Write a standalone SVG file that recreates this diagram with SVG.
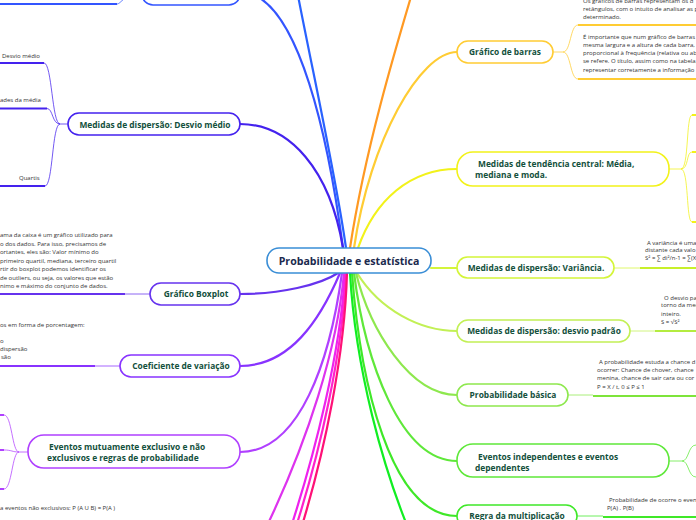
<svg xmlns="http://www.w3.org/2000/svg" width="696" height="520" viewBox="0 0 696 520">
<style>
.bg{fill:#ffffff}
.box{fill:#ffffff;stroke-width:1.6}
.nt{font-family:"Open Sans","DejaVu Sans",sans-serif;font-weight:bold;font-size:8.4px;fill:#13503c}
.ct{font-family:"Open Sans","DejaVu Sans",sans-serif;font-weight:bold;font-size:10.6px;fill:#1b2a4e}
.st{font-family:"Open Sans","DejaVu Sans",sans-serif;font-size:6px;fill:#333333}
.br{fill:none;stroke-width:2.2;stroke-linecap:round}
.th{fill:none;stroke-width:1;opacity:0.75}
.ul{fill:none;stroke-width:2}
</style>
<rect class="bg" x="0" y="0" width="696" height="520"/>

<g id="connectors">
  <!-- main branches -->
  <path class="br" stroke="#3355ff" stroke-width="1.6" d="M343 248 C330 150 300 -8 240 -8"/>
  <path class="br" stroke="#2962ff" d="M346 248 C335 170 310 60 295 -20"/>
  <path class="br" stroke="#ff9922" d="M350 248 C365 150 395 50 416 -20"/>
  <path class="br" stroke="#ffcc33" stroke-width="1.6" d="M354 248 C370 140 420 52 457 52"/>
  <path class="br" stroke="#f2f21a" stroke-width="1.8" d="M358 248 C375 200 410 169 457 169"/>
  <path class="br" stroke="#d4f53a" stroke-width="1.6" d="M431 268 C440 268 446 268 457 268"/>
  <path class="br" stroke="#c2f055" stroke-width="1.6" d="M357 273 C380 310 420 331 457 331"/>
  <path class="br" stroke="#8ee84e" stroke-width="1.6" d="M356 273 C370 330 410 395 457 395"/>
  <path class="br" stroke="#5fe83a" stroke-width="1.8" d="M354 273 C365 360 400 461 457 461"/>
  <path class="br" stroke="#3fe828" stroke-width="1.8" d="M352 273 C360 380 390 516 457 516"/>
  <path class="br" stroke="#11ee22" d="M350 273 C355 360 380 470 422 560"/>

  <path class="br" stroke="#4422ee" stroke-width="1.8" d="M343 248 C330 170 290 124 240 124"/>
  <path class="br" stroke="#6633ee" d="M338 273 C320 285 280 294 240 294"/>
  <path class="br" stroke="#8833ff" stroke-width="1.8" d="M340 273 C320 320 290 366 240 366"/>
  <path class="br" stroke="#b040ff" stroke-width="1.6" d="M342 273 C330 360 300 452 240 452"/>
  <path class="br" stroke="#dd33ee" stroke-width="1.6" d="M344 273 C338 340 312 440 250 560"/>
  <path class="br" stroke="#ee22ee" d="M345 273 C341 345 318 450 280 560"/>
  <path class="br" stroke="#ff22cc" d="M346 273 C343 345 323 450 285 560"/>
  <path class="br" stroke="#ff1177" d="M347 273 C345 345 328 450 291 560"/>

  <!-- child connectors right -->
  <path class="th" stroke="#ffcc33" d="M553 52 H563 C571 52 570 25 578 25 M563 52 C571 52 570 79 578 79"/>
  <path class="ul" stroke="#ffcc33" d="M578 25 H696 M578 79 H696"/>
  <path class="th" stroke="#f2f21a" d="M669 169 H681 C689 169 686 115 692 115 M681 169 C689 169 686 152 692 152 M681 169 C689 169 686 222 692 222"/>
  <path class="ul" stroke="#f2f21a" d="M692 115 H696 M692 152 H696 M692 222 H696"/>
  <path class="th" stroke="#d4f53a" d="M614 268 H640"/>
  <path class="ul" stroke="#c8f02a" d="M640 268 H696"/>
  <path class="th" stroke="#c2f055" d="M630 331 H655"/>
  <path class="ul" stroke="#b4ec40" d="M655 331 H696"/>
  <path class="th" stroke="#8ee84e" d="M568 395 H593"/>
  <path class="ul" stroke="#7ee43a" d="M593 396 H696"/>
  <path class="th" stroke="#5fe83a" d="M669 461 H682 C689 461 688 445 696 445 M682 461 C689 461 688 477 696 477"/>
  <path class="th" stroke="#3fe828" d="M577 516 H603"/>
  <path class="ul" stroke="#3fe828" d="M603 517 H696"/>

  <!-- child connectors left -->
  <path class="th" stroke="#3355ff" d="M117 4 C121 4 124 -6 142 -8"/>
  <path class="ul" stroke="#3355ff" d="M0 4 H117"/>
  <path class="th" stroke="#4422ee" d="M68 124 H60 C52 124 52 63 44 63 M60 124 C52 124 53 108.5 47 108.5 M60 124 C52 124 53 186 45 186"/>
  <path class="ul" stroke="#4422ee" d="M0 63 H44 M0 108.5 H47 M0 186 H45"/>
  <path class="th" stroke="#6633ee" d="M125 294 H150"/>
  <path class="ul" stroke="#6633ee" d="M0 294 H125"/>
  <path class="th" stroke="#8833ff" d="M95 366 H120"/>
  <path class="ul" stroke="#8833ff" d="M0 366 H95"/>
  <path class="th" stroke="#b040ff" d="M28 452 H19 C12 452 12 415 4 415 M19 452 C12 452 12 450 4 450 M19 452 C12 452 12 489 4 489"/>
  <path class="ul" stroke="#b040ff" d="M0 415 H4 M0 450 H4 M0 489 H4"/>
</g>

<g id="center">
  <rect class="box" x="267" y="248" width="164" height="25" rx="12" stroke="#3a8ed6"/>
  <text class="ct" x="349" y="264.5" text-anchor="middle">Probabilidade e estatística</text>
</g>

<g id="top-left">
  <rect class="box" x="142" y="-20" width="98" height="25" rx="11" stroke="#3355ff"/>
</g>

<g id="barras">
  <rect class="box" x="457" y="41" width="96" height="22" rx="11" stroke="#ffcc33"/>
  <text class="nt" x="505" y="55" text-anchor="middle">Gráfico de barras</text>
</g>
<g id="barras-c1">
  <text class="st" x="583" y="3">Os gráficos de barras representam os d</text>
  <text class="st" x="583" y="11">retângulos, com o intuito de analisar as p</text>
  <text class="st" x="583" y="19">determinado.</text>
</g>
<g id="barras-c2">
  <text class="st" x="583" y="39">É importante que num gráfico de barras s</text>
  <text class="st" x="583" y="47">mesma largura e a altura de cada barra,</text>
  <text class="st" x="583" y="55">proporcional à frequência (relativa ou ab</text>
  <text class="st" x="583" y="63">se refere. O título, assim como na tabela,</text>
  <text class="st" x="583" y="72">representar corretamente a informação</text>
</g>

<g id="tendencia">
  <rect class="box" x="457" y="152" width="212" height="34" rx="16" stroke="#f2f21a"/>
  <text class="nt" x="478" y="167">Medidas de tendência central: Média,</text>
  <text class="nt" x="475" y="178">mediana e moda.</text>
</g>

<g id="variancia">
  <rect class="box" x="457" y="257" width="157" height="21" rx="10.5" stroke="#d4f53a"/>
  <text class="nt" x="536" y="271" text-anchor="middle">Medidas de dispersão: Variância.</text>
</g>
<g id="variancia-c">
  <text class="st" x="647" y="245">A variância é uma</text>
  <text class="st" x="645" y="252">distante cada valo</text>
  <text class="st" x="645" y="260">S² = ∑ di²/n-1 = ∑(X</text>
</g>

<g id="desvio-padrao">
  <rect class="box" x="457" y="320" width="173" height="22" rx="11" stroke="#c2f055"/>
  <text class="nt" x="544" y="334" text-anchor="middle">Medidas de dispersão: desvio padrão</text>
</g>
<g id="desvio-padrao-c">
  <text class="st" x="664" y="300">O desvio pad</text>
  <text class="st" x="661" y="307">torno da med</text>
  <text class="st" x="661" y="316">inteiro.</text>
  <text class="st" x="661" y="324">S = √S²</text>
</g>

<g id="prob-basica">
  <rect class="box" x="457" y="384" width="111" height="22" rx="11" stroke="#8ee84e"/>
  <text class="nt" x="513" y="398" text-anchor="middle">Probabilidade básica</text>
</g>
<g id="prob-basica-c">
  <text class="st" x="599" y="364">A probabilidade estuda a chance d</text>
  <text class="st" x="597" y="372">ocorrer: Chance de chover, chance</text>
  <text class="st" x="597" y="380">menina, chance de sair cara ou cor</text>
  <text class="st" x="597" y="389">P = X / t, 0 ≤ P ≤ 1</text>
</g>

<g id="independentes">
  <rect class="box" x="457" y="444" width="212" height="33" rx="16" stroke="#5fe83a"/>
  <text class="nt" x="478" y="460">Eventos independentes e eventos</text>
  <text class="nt" x="475" y="471">dependentes</text>
</g>

<g id="multiplicacao">
  <rect class="box" x="457" y="505" width="120" height="22" rx="11" stroke="#3fe828"/>
  <text class="nt" x="517" y="519" text-anchor="middle">Regra da multiplicação</text>
</g>
<g id="multiplicacao-c">
  <text class="st" x="609" y="502">Probabilidade de ocorre o event</text>
  <text class="st" x="607" y="510">P(A) . P(B)</text>
</g>

<g id="desvio-medio">
  <rect class="box" x="68" y="113" width="172" height="22" rx="11" stroke="#4422ee"/>
  <text class="nt" x="155" y="128" text-anchor="middle">Medidas de dispersão: Desvio médio</text>
</g>
<g id="desvio-medio-c">
  <text class="st" x="2" y="57.5">Desvio médio</text>
  <text class="st" x="0" y="102">ades da média</text>
  <text class="st" x="19" y="180">Quartis</text>
</g>

<g id="boxplot">
  <rect class="box" x="150" y="283" width="90" height="22" rx="11" stroke="#6633ee"/>
  <text class="nt" x="196" y="297" text-anchor="middle">Gráfico Boxplot</text>
</g>
<g id="boxplot-c">
  <text class="st" x="0" y="237">ama da caixa é um gráfico utilizado para</text>
  <text class="st" x="0" y="245.5">o dos dados. Para isso, precisamos de</text>
  <text class="st" x="0" y="254">ortantes, eles são: Valor mínimo do</text>
  <text class="st" x="0" y="262.5">primeiro quartil, mediana, terceiro quartil</text>
  <text class="st" x="0" y="271">rtir do boxplot podemos identificar os</text>
  <text class="st" x="0" y="279.5">de outliers, ou seja, os valores que estão</text>
  <text class="st" x="0" y="288">nimo e máximo do conjunto de dados.</text>
</g>

<g id="coeficiente">
  <rect class="box" x="120" y="355" width="120" height="22" rx="11" stroke="#8833ff"/>
  <text class="nt" x="181" y="369" text-anchor="middle">Coeficiente de variação</text>
</g>
<g id="coeficiente-c">
  <text class="st" x="0" y="327">os em forma de porcentagem:</text>
  <text class="st" x="0" y="343">o</text>
  <text class="st" x="0" y="351">dispersão</text>
  <text class="st" x="1" y="359">são</text>
</g>

<g id="mutuamente">
  <rect class="box" x="28" y="435" width="212" height="33" rx="16" stroke="#b040ff"/>
  <text class="nt" x="49" y="450">Eventos mutuamente exclusivo e não</text>
  <text class="nt" x="47" y="461">exclusivos e regras de probabilidade</text>
</g>
<g id="mutuamente-c">
  <text class="st" x="0" y="510">a eventos não exclusivos: P (A U B) = P(A )</text>
</g>
</svg>
